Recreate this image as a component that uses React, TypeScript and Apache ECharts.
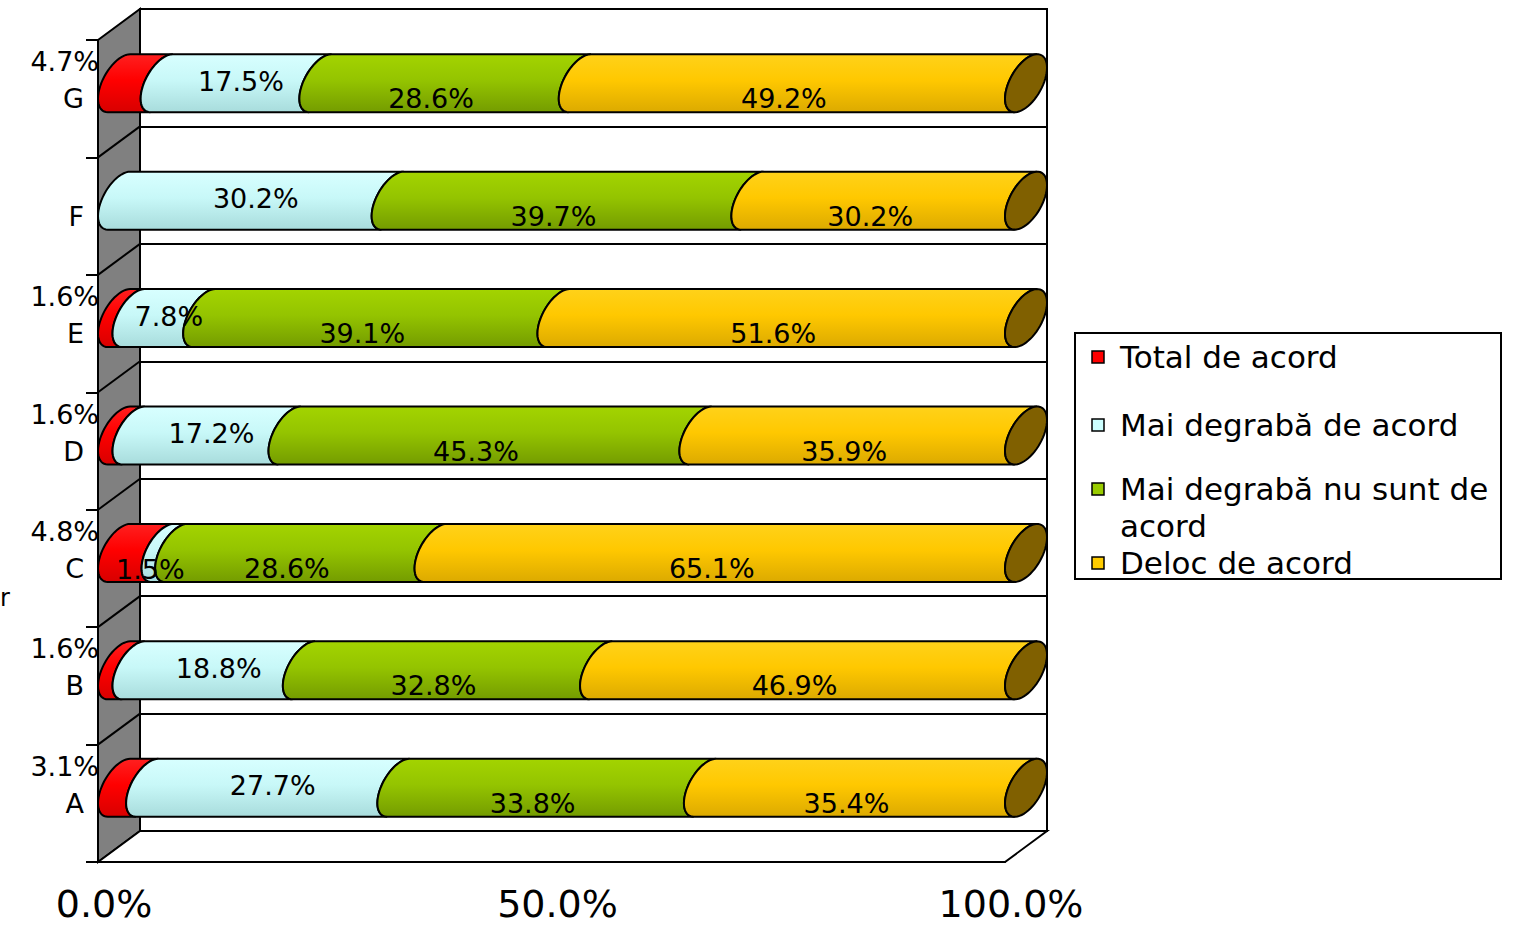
import React, { useEffect, useRef } from 'react';
import * as echarts from 'echarts';

// ---- data ----
const categories = ['A', 'B', 'C', 'D', 'E', 'F', 'G'];
const seriesNames = ['Total de acord', 'Mai degrabă de acord', 'Mai degrabă nu sunt de acord', 'Deloc de acord'];
const totalDeAcord = [3.1, 1.6, 4.8, 1.6, 1.6, 0, 4.7];
const maiDegrabaDeAcord = [27.7, 18.8, 1.5, 17.2, 7.8, 30.2, 17.5];
const maiDegrabaNuSuntDeAcord = [33.8, 32.8, 28.6, 45.3, 39.1, 39.7, 28.6];
const delocDeAcord = [35.4, 46.9, 65.1, 35.9, 51.6, 30.2, 49.2];
const xMin = 0;
const xMax = 100;
const xTickStep = 50;

// ---- styles / layout ----
const FONT = '"DejaVu Sans", Verdana, sans-serif';
const GL = 98, GT = 40, GW = 907, GH = 822;
const DX = 42, DY = 31;
const baseColors = ['#ff0000', '#ccffff', '#99cc00', '#ffcc00'];
const gradStops = [
  ['#ff2020', '#ff0000', '#d80000'],
  ['#d8ffff', '#c8f8f8', '#a8dcdc'],
  ['#a3d400', '#94c400', '#749c00'],
  ['#ffd21a', '#ffc800', '#dcaa00'],
];
const capColor = '#806000';

const allValues = [totalDeAcord, maiDegrabaDeAcord, maiDegrabaNuSuntDeAcord, delocDeAcord];

function buildSeriesData(si: number) {
  return categories.map((_, ci) => {
    const total = allValues.reduce((s, arr) => s + arr[ci], 0);
    let start = 0;
    for (let k = 0; k < si; k++) start += allValues[k][ci];
    const v = allValues[si][ci];
    const s = (start / total) * 100;
    const e = ((start + v) / total) * 100;
    return [s, e, ci, v];
  });
}

function makeRender(si: number) {
  const isLast = si === allValues.length - 1;
  return (params: any, api: any) => {
    const start = api.value(0);
    const end = api.value(1);
    const cat = api.value(2);
    const raw = api.value(3);
    if (!(raw > 0)) return null;
    const p0 = api.coord([start, cat]);
    const p1 = api.coord([end, cat]);
    const band = api.size([0, 1])[1];
    const yF = p0[1];
    const yc = yF - DY / 2;
    const H = band * 0.247;
    const ry = Math.sqrt(Math.max(H * H - (DY / 2) * (DY / 2), 1));
    const rx = DX / 2;
    const pt = (X: number, t: number) => [X + rx + rx * Math.sin(t), yc - ry * Math.cos(t) - (DY / 2) * Math.sin(t)];
    const t0 = Math.atan2(DY / 2, ry);
    const N = 28;
    const pts: number[][] = [];
    for (let i = 0; i <= N; i++) pts.push(pt(p0[0], t0 - (Math.PI * i) / N));
    for (let i = 0; i <= N; i++) pts.push(pt(p1[0], t0 - Math.PI + (Math.PI * i) / N));
    const st = gradStops[si];
    const children: any[] = [
      {
        type: 'polygon',
        shape: { points: pts },
        style: {
          fill: new echarts.graphic.LinearGradient(0, 0, 0, 1, [
            { offset: 0, color: st[0] },
            { offset: 0.45, color: st[1] },
            { offset: 1, color: st[2] },
          ]),
          stroke: '#000',
          lineWidth: 2,
        },
      },
    ];
    if (isLast) {
      const cap: number[][] = [];
      for (let i = 0; i < 60; i++) cap.push(pt(p1[0], (Math.PI * 2 * i) / 60));
      children.push({
        type: 'polygon',
        shape: { points: cap },
        style: { fill: capColor, stroke: '#000', lineWidth: 2 },
      });
    }
    // label
    const mid = (p0[0] + p1[0]) / 2;
    let lx = mid + 2;
    let ly = yF;
    let align = 'center';
    if (si === 0) {
      lx = p0[0] + 1;
      ly = yF - 37;
      align = 'right';
    } else if (si === 1) {
      if (raw < 5) {
        lx = mid + 2;
        ly = yF + 1;
      } else {
        lx = mid + DX / 2;
        ly = yc - 2;
      }
    }
    children.push({
      type: 'text',
      x: lx,
      y: ly,
      z2: 100,
      style: {
        text: raw.toFixed(1) + '%',
        fill: '#000',
        font: '27px ' + FONT,
        textAlign: align,
        textVerticalAlign: 'middle',
      },
    });
    return { type: 'group', children };
  };
}

function buildGraphic() {
  const els: any[] = [];
  // left side wall
  els.push({
    type: 'polygon',
    z: 1,
    shape: { points: [[GL, GT], [GL + DX, GT - DY], [GL + DX, GT + GH - DY], [GL, GT + GH]] },
    style: { fill: '#808080', stroke: '#000', lineWidth: 2 },
  });
  for (let k = 1; k < categories.length; k++) {
    const y = GT + (k * GH) / categories.length;
    els.push({
      type: 'line',
      z: 1,
      shape: { x1: GL, y1: y, x2: GL + DX, y2: y - DY },
      style: { stroke: '#000', lineWidth: 2 },
    });
  }
  // floor
  els.push({
    type: 'polygon',
    z: 1,
    shape: { points: [[GL, GT + GH], [GL + DX, GT + GH - DY], [GL + DX + GW, GT + GH - DY], [GL + GW, GT + GH]] },
    style: { fill: '#fff', stroke: '#000', lineWidth: 2 },
  });
  // cut-off axis title
  els.push({
    type: 'text',
    z: 1,
    x: 0,
    y: 598,
    style: { text: 'r', fill: '#000', font: '24px ' + FONT, textAlign: 'left', textVerticalAlign: 'middle' },
  });
  // legend
  const LX = 1075, LY = 333, LW = 426, LH = 246;
  const LINE_H = 37;
  els.push({
    type: 'rect',
    z: 1,
    shape: { x: LX, y: LY, width: LW, height: LH },
    style: { fill: '#fff', stroke: '#000', lineWidth: 2 },
  });
  const legendY = [357, 425, 489, 563];
  const legendText = ['Total de acord', 'Mai degrabă de acord', 'Mai degrabă nu sunt de\nacord', 'Deloc de acord'];
  legendY.forEach((cy, i) => {
    els.push({
      type: 'rect',
      z: 2,
      shape: { x: 1092, y: cy - 6, width: 12, height: 12 },
      style: { fill: baseColors[i], stroke: '#000', lineWidth: 1.5 },
    });
    els.push({
      type: 'text',
      z: 2,
      x: 1120,
      y: cy - LINE_H / 2,
      style: {
        text: legendText[i],
        fill: '#000',
        font: '31px ' + FONT,
        lineHeight: LINE_H,
        textAlign: 'left',
        textVerticalAlign: 'top',
      },
    });
  });
  return els;
}

export default function App() {
  const ref = useRef<HTMLDivElement>(null);
  useEffect(() => {
    document.body.style.margin = '0';
    if (!ref.current) return;
    const chart = echarts.init(ref.current, undefined, { renderer: 'svg' });
    const option: any = {
      animation: false,
      backgroundColor: '#fff',
      grid: [
        { left: GL, top: GT, width: GW, height: GH, show: false },
        {
          left: GL + DX,
          top: GT - DY,
          width: GW,
          height: GH,
          show: true,
          backgroundColor: '#fff',
          borderColor: '#000',
          borderWidth: 2,
        },
      ],
      xAxis: [
        {
          gridIndex: 0,
          type: 'value',
          min: xMin,
          max: xMax,
          interval: xTickStep,
          axisLine: { show: true, lineStyle: { color: '#000', width: 2 } },
          axisTick: { show: false },
          splitLine: { show: false },
          axisLabel: {
            formatter: (v: number) => v.toFixed(1) + '%',
            color: '#000',
            fontSize: 38,
            lineHeight: 34,
            fontFamily: FONT,
            margin: 25,
            padding: [0, 0, 0, 12],
          },
        },
        { gridIndex: 1, type: 'value', min: xMin, max: xMax, show: false },
      ],
      yAxis: [
        {
          gridIndex: 0,
          type: 'category',
          data: categories,
          axisLine: { show: true, lineStyle: { color: '#000', width: 2 } },
          axisTick: { show: true, length: 12, lineStyle: { color: '#000', width: 2 } },
          splitLine: { show: false },
          axisLabel: { color: '#000', fontSize: 27, fontFamily: FONT, margin: 14 },
        },
        {
          gridIndex: 1,
          type: 'category',
          data: categories,
          axisLine: { show: false },
          axisTick: { show: false },
          axisLabel: { show: false },
          splitLine: { show: true, lineStyle: { color: '#000', width: 2 } },
        },
      ],
      graphic: buildGraphic(),
      series: seriesNames.map((name, si) => ({
        type: 'custom',
        name,
        xAxisIndex: 0,
        yAxisIndex: 0,
        itemStyle: { color: baseColors[si] },
        encode: { x: [0, 1], y: 2 },
        data: buildSeriesData(si),
        renderItem: makeRender(si),
        z: 3,
      })),
    };
    chart.setOption(option);
    return () => chart.dispose();
  }, []);
  return <div ref={ref} style={{ width: 1518, height: 927 }} />;
}
